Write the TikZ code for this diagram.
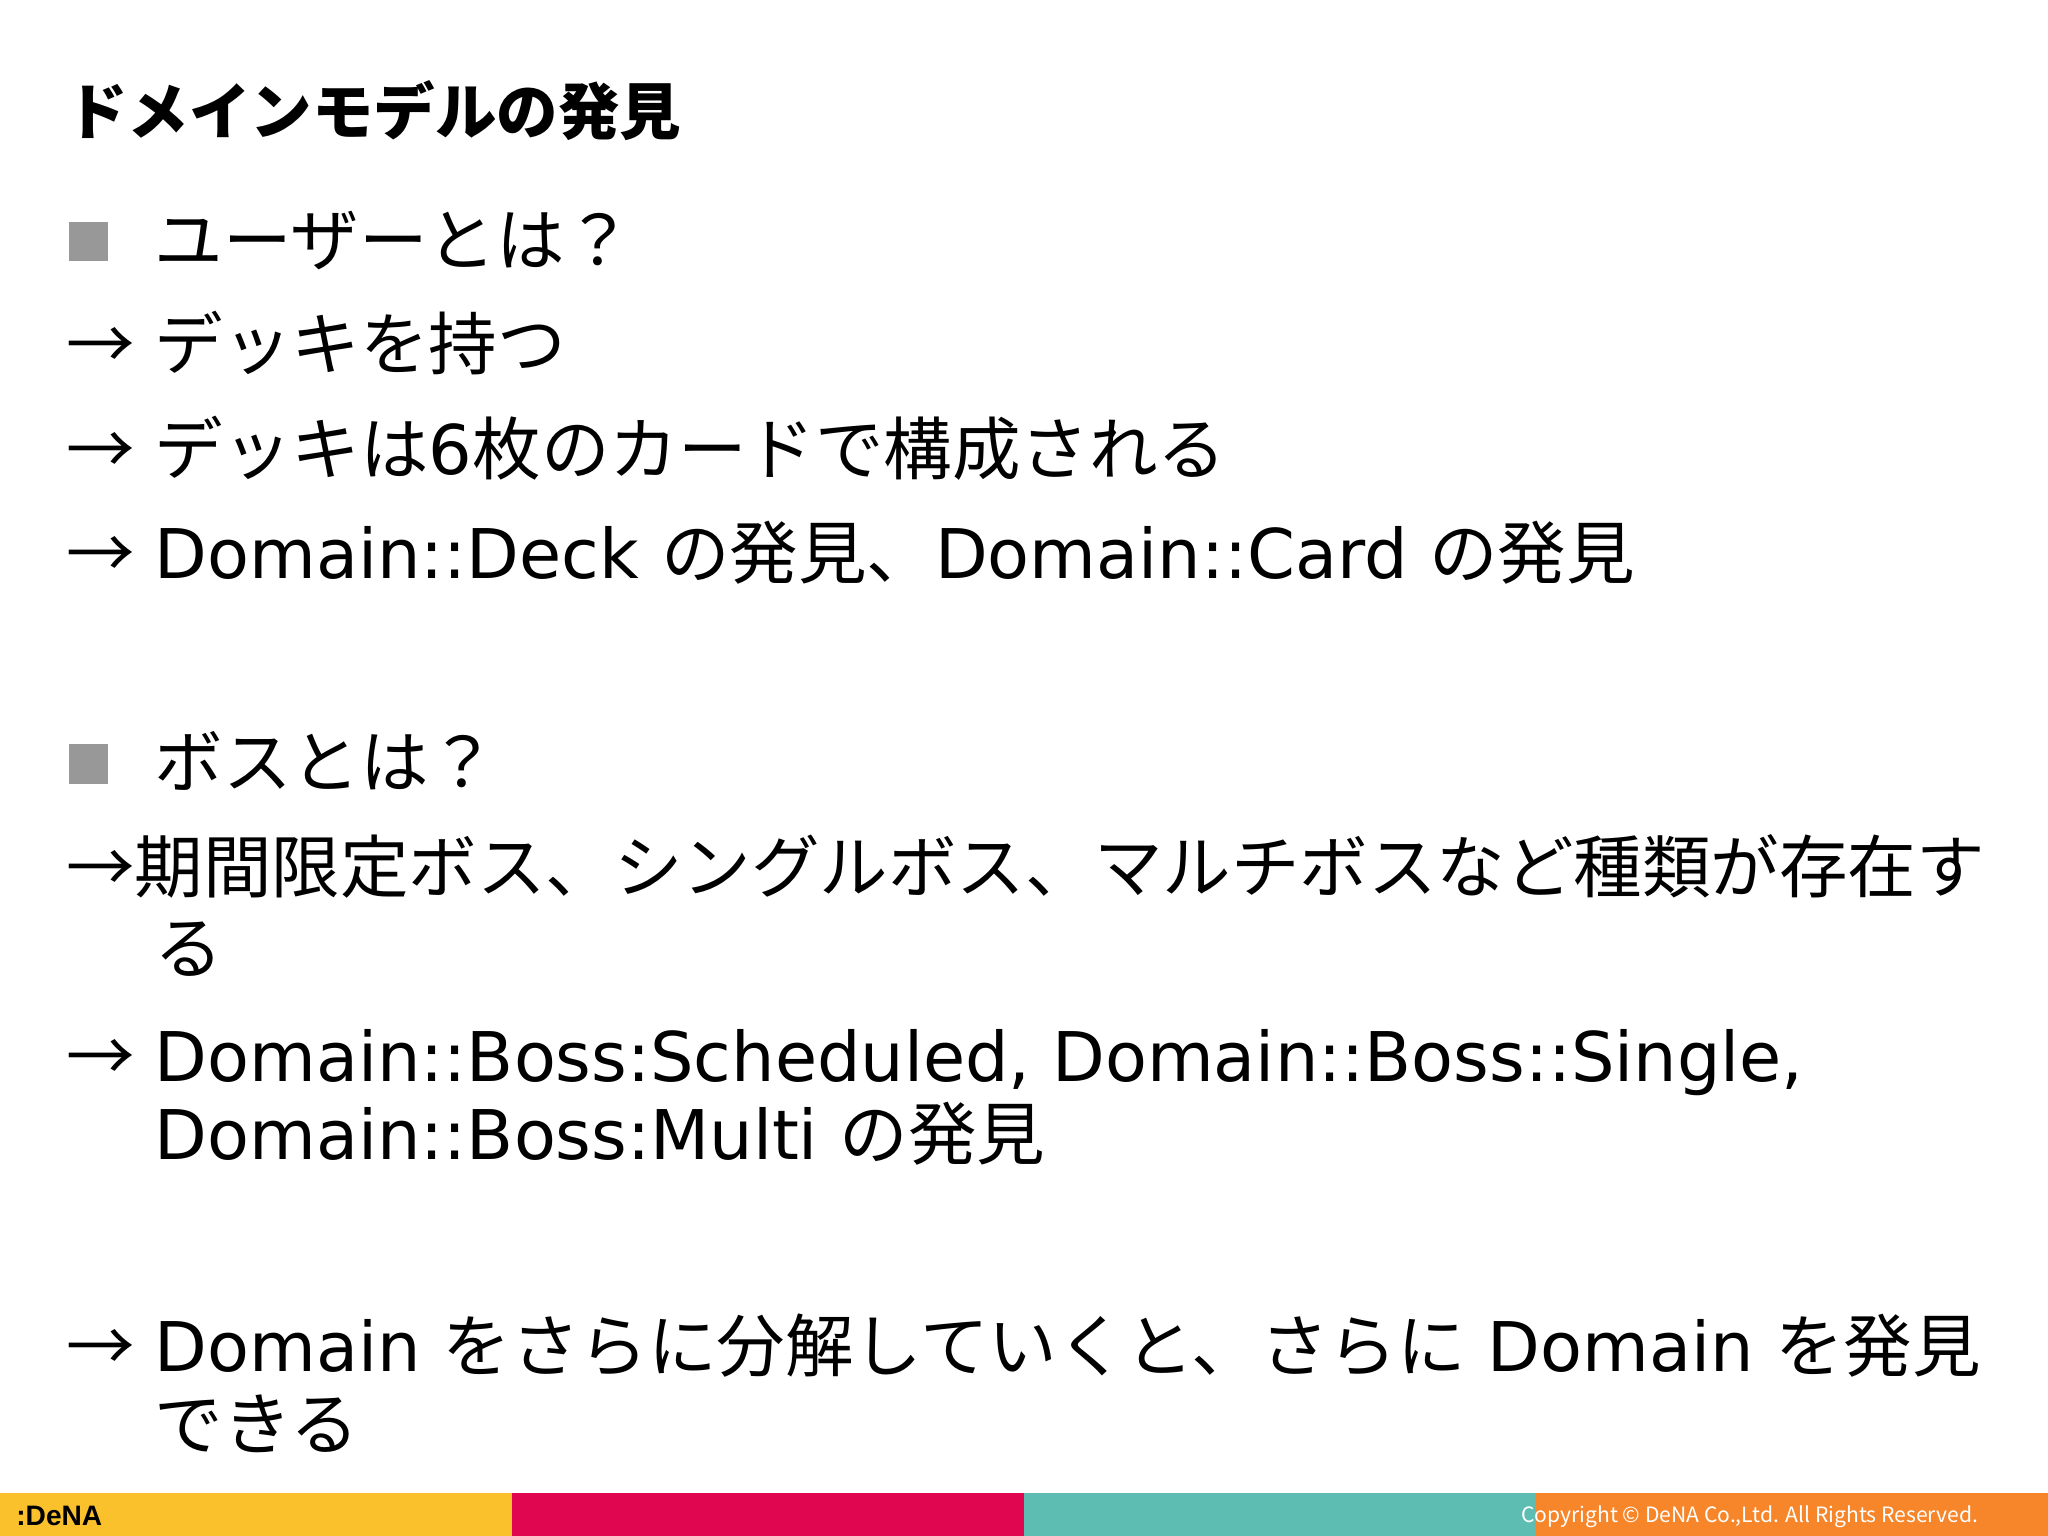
\documentclass[tikz,border=0pt]{standalone}
\usepackage{fontspec}
\setmainfont{Noto Sans CJK JP}
\newfontfamily\lt{DejaVu Sans}
\newfontfamily\lib{Liberation Sans}
\newcommand{\lat}[1]{{\lt #1}}
\definecolor{fy}{HTML}{FBC12D}
\definecolor{fm}{HTML}{E0064F}
\definecolor{ft}{HTML}{5DBDB3}
\definecolor{fo}{HTML}{F7862A}
\begin{document}
\begin{tikzpicture}[x=0.013061cm,y=-0.013061cm,
  txt/.style={anchor=base west,inner sep=0,font=\fontsize{19.5}{20}\selectfont},
  sq/.style={fill=gray!85!black!70,draw=none}]
\useasboundingbox (0,0) rectangle (1568,1176);
\fill[white] (0,0) rectangle (1568,1176);
\node[anchor=base west,inner sep=0,font=\fontsize{17.5}{18}\selectfont\bfseries] (title) at (50,103) {ドメインモデルの発見};
\fill[sq] (53,170) rectangle (83,200);
\node[txt] (l1) at (118,203) {ユーザーとは？};
\node[txt] (a2) at (50,283) {→};
\node[txt] (l2) at (118,283) {デッキを持つ};
\node[txt] (a3) at (50,363) {→};
\node[txt] (l3) at (118,363) {デッキは\lat{6}枚のカードで構成される};
\node[txt] (a4) at (50,443) {→};
\node[txt] (l4) at (118,443) {\lat{Domain::Deck }の発見、\lat{Domain::Card }の発見};
\fill[sq] (53,570) rectangle (83,600);
\node[txt] (l5) at (118,603) {ボスとは？};
\node[txt] (l6) at (50,683) {→期間限定ボス、シングルボス、マルチボスなど種類が存在す};
\node[txt] (l6b) at (118,745) {る};
\node[txt] (a7) at (50,828) {→};
\node[txt] (l7) at (118,828) {\lat{Domain::Boss:Scheduled, Domain::Boss::Single,}};
\node[txt] (l7b) at (118,888) {\lat{Domain::Boss:Multi }の発見};
\node[txt] (a8) at (50,1050) {→};
\node[txt] (l8) at (118,1050) {\lat{Domain }をさらに分解していくと、さらに\lat{ Domain }を発見};
\node[txt] (l8b) at (118,1110) {できる};
\fill[fy] (0,1143) rectangle (392,1176);
\fill[fm] (392,1143) rectangle (784,1176);
\fill[ft] (784,1143) rectangle (1176,1176);
\fill[fo] (1176,1143) rectangle (1568,1176);
\node[anchor=west,inner sep=0,font=\lib\bfseries\fontsize{8}{9}\selectfont] (logo) at (12,1161) {:DeNA};
\node[anchor=east,inner sep=0,text=white,font=\fontsize{6}{7}\selectfont] (copy) at (1515,1161) {Copyright © DeNA Co.,Ltd. All Rights Reserved.};
\end{tikzpicture}
\end{document}
